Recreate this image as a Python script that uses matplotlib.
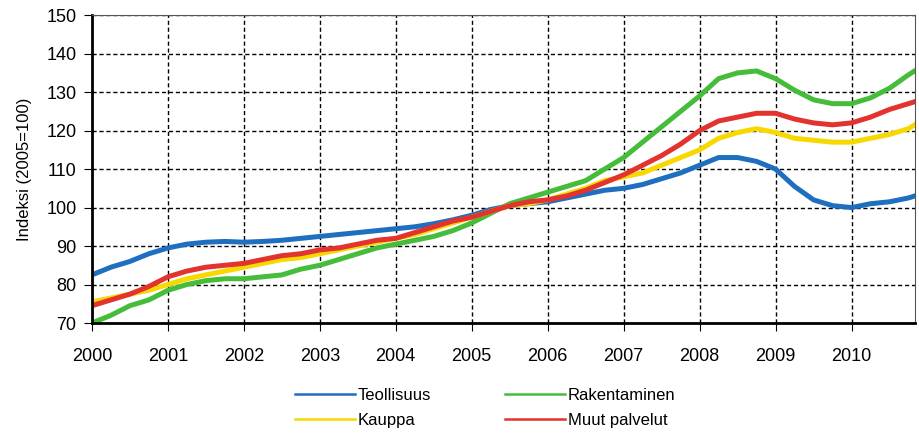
import numpy as np
import matplotlib.pyplot as plt

plt.rcParams['font.family'] = ['Liberation Sans', 'DejaVu Sans']

# quarterly readings, Jan 2000 .. Nov 2010
years = [2000.0, 2000.25, 2000.5, 2000.75, 2001.0, 2001.25, 2001.5, 2001.75,
         2002.0, 2002.25, 2002.5, 2002.75, 2003.0, 2003.25, 2003.5, 2003.75,
         2004.0, 2004.25, 2004.5, 2004.75, 2005.0, 2005.25, 2005.5, 2005.75,
         2006.0, 2006.25, 2006.5, 2006.75, 2007.0, 2007.25, 2007.5, 2007.75,
         2008.0, 2008.25, 2008.5, 2008.75, 2009.0, 2009.25, 2009.5, 2009.75,
         2010.0, 2010.25, 2010.5, 2010.75, 2010.83]

teollisuus = [82.5, 84.5, 86, 88, 89.5, 90.5, 91, 91.2, 91, 91.2, 91.5, 92,
              92.5, 93, 93.5, 94, 94.5, 95, 95.8, 96.8, 98, 99.5, 100.5, 101,
              101.5, 102.5, 103.5, 104.5, 105, 106, 107.5, 109, 111, 113, 113, 112,
              110, 105.5, 102, 100.5, 100, 101, 101.5, 102.5, 103]

rakentaminen = [70, 72, 74.5, 76, 78.5, 80, 81, 81.5, 81.5, 82, 82.5, 84,
                85, 86.5, 88, 89.5, 90.5, 91.5, 92.5, 94, 96, 98.5, 101, 102.5,
                104, 105.5, 107, 110, 113, 117, 121, 125, 129, 133.5, 135, 135.5,
                133.5, 130.5, 128, 127, 127, 128.5, 131, 134.5, 135.5]

kauppa = [75.5, 76.5, 77.5, 78.5, 80, 81.5, 82.5, 83.5, 84.5, 85.5, 86.5, 87,
          88, 89, 90, 91, 92, 93, 94.5, 96, 97.5, 99, 100.5, 101,
          102, 103.5, 105, 107, 108, 109, 111, 113, 115, 118, 119.5, 120.5,
          119.5, 118, 117.5, 117, 117, 118, 119, 120.5, 121.5]

muut = [74.5, 76, 77.5, 79.5, 82, 83.5, 84.5, 85, 85.5, 86.5, 87.5, 88,
        89, 89.5, 90.5, 91.5, 92, 93.5, 95, 96.5, 97.5, 99, 100.5, 101.5,
        102, 103, 104.5, 106.5, 108.5, 111, 113.5, 116.5, 120, 122.5, 123.5, 124.5,
        124.5, 123, 122, 121.5, 122, 123.5, 125.5, 127, 127.5]

year_ticks = list(range(2000, 2011))

fig = plt.figure(figsize=(9.19, 4.33), dpi=100)
ax = fig.add_axes([0.100, 0.254, 0.896, 0.711])

ax.plot(years, teollisuus, color='#1f6fc0', lw=3.6, label='Teollisuus')
ax.plot(years, rakentaminen, color='#45bd3a', lw=3.6, label='Rakentaminen')
ax.plot(years, kauppa, color='#f7d800', lw=3.6, label='Kauppa')
ax.plot(years, muut, color='#e2332f', lw=3.6, label='Muut palvelut')

ax.set_xlim(2000, 2010.84)
ax.set_ylim(70, 150)
ax.set_xticks(year_ticks)
ax.set_yticks(range(70, 151, 10))
ax.grid(True, color='black', linestyle=(0, (3, 2)), linewidth=1)
ax.tick_params(axis='x', direction='out', length=6, labelsize=13, pad=12)
ax.tick_params(axis='y', direction='out', length=6, labelsize=13, pad=5)
ax.set_ylabel('Indeksi (2005=100)', fontsize=12, labelpad=10)

ax.spines['left'].set_linewidth(2)
ax.spines['bottom'].set_linewidth(2)
ax.spines['top'].set_color('#555555')
ax.spines['right'].set_color('#555555')

h, l = ax.get_legend_handles_labels()
order = [0, 2, 1, 3]
fig.legend([h[i] for i in order], [l[i] for i in order], ncol=2,
           loc='lower center', bbox_to_anchor=(0.528, -0.022), frameon=False,
           fontsize=12, handlelength=3.6, columnspacing=4.4, handletextpad=0.2,
           labelspacing=0.6)
for line in fig.legends[0].get_lines():
    line.set_linewidth(1.8)

fig.savefig('out.png', dpi=100)
